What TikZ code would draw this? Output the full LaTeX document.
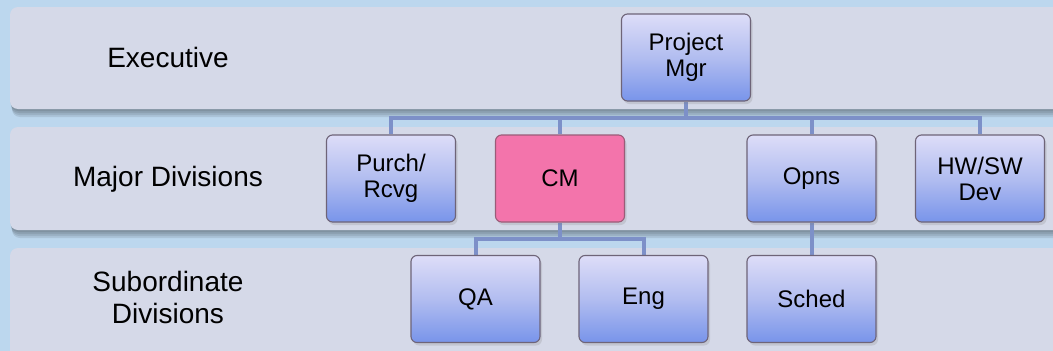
\documentclass[tikz,border=0pt]{standalone}
\usepackage{fontspec}
\setmainfont{Liberation Sans}
\usetikzlibrary{shadows}
\pgfdeclarelayer{backlayer}
\pgfdeclarelayer{midlayer}
\pgfsetlayers{backlayer,midlayer,main}
\definecolor{bgblue}{HTML}{BCD7EE}
\definecolor{bandfill}{HTML}{D5D9E8}
\definecolor{conncol}{HTML}{7D90C8}
\definecolor{boxtop}{HTML}{DDDDF8}
\definecolor{boxmid}{HTML}{B2BDF0}
\definecolor{boxbot}{HTML}{7894EA}
\definecolor{boxline}{HTML}{6E6478}
\definecolor{cmfill}{HTML}{F374AB}
\definecolor{cmline}{HTML}{9A5C78}
\tikzset{
  band/.style={fill=bandfill, rounded corners=8pt},
  bandshadow/.style={fill=black, fill opacity=0.09, rounded corners=8pt},
  bandlabel/.style={font=\fontsize{28}{32}\selectfont, align=center, text=black},
  orgbox/.style={draw=boxline, line width=1.1pt, rounded corners=6pt,
    top color=boxtop, bottom color=boxbot, middle color=boxmid,
    minimum width=129pt, minimum height=87pt, inner sep=0pt,
    font=\fontsize{24}{26}\selectfont, align=center,
    drop shadow={shadow xshift=2pt, shadow yshift=-3pt, opacity=0.22}},
  cmbox/.style={orgbox, top color=cmfill, bottom color=cmfill, middle color=cmfill, draw=cmline},
  conn/.style={draw=conncol, line width=4pt}
}
\begin{document}
\begin{tikzpicture}[x=1pt,y=-1pt]
\useasboundingbox (0,0) rectangle (1053,351);
\begin{pgfonlayer}{backlayer}
\begin{scope}
\clip (0,0) rectangle (1053,351);
\fill[bgblue] (0,0) rectangle (1053,351);
\foreach \d in {2,4,6,8}{
  \path[bandshadow] (10+\d/4,7+\d) rectangle (1080,109+\d);
  \path[bandshadow] (10+\d/4,127+\d) rectangle (1080,230+\d);
}
\path[band] (10,7) rectangle (1080,109);
\path[band] (10,127) rectangle (1080,230);
\path[band] (10,248) rectangle (1080,370);
\end{scope}
\end{pgfonlayer}
\node[bandlabel] (lexec) at (168,57) {Executive};
\node[bandlabel] (lmaj) at (168,179) {Major Divisions};
\node[bandlabel] (lsub) at (168,297) {Subordinate\\Divisions};
\coordinate (bar1) at (686,118);
\coordinate (bar2) at (560,239);
\node[orgbox] (pm) at (686,57.5) {Project\\Mgr};
\node[orgbox] (purch) at (391,178.5) {Purch/\\Rcvg};
\node[cmbox] (cm) at (560,178.5) {CM};
\node[orgbox] (opns) at (811.5,178.5) {Opns};
\node[orgbox] (hwsw) at (980,178.5) {HW/SW\\Dev};
\node[orgbox] (qa) at (475.5,299) {QA};
\node[orgbox] (eng) at (643.5,299) {Eng};
\node[orgbox] (sched) at (811.5,299) {Sched};
\begin{pgfonlayer}{midlayer}
\path[conn] (pm.south) -- (bar1) -| (purch.north);
\path[conn] (bar1) -| (cm.north);
\path[conn] (bar1) -| (opns.north);
\path[conn] (bar1) -| (hwsw.north);
\path[conn] (cm.south) -- (bar2) -| (qa.north);
\path[conn] (bar2) -| (eng.north);
\path[conn] (opns.south) -- (sched.north);
\end{pgfonlayer}
\end{tikzpicture}
\end{document}
